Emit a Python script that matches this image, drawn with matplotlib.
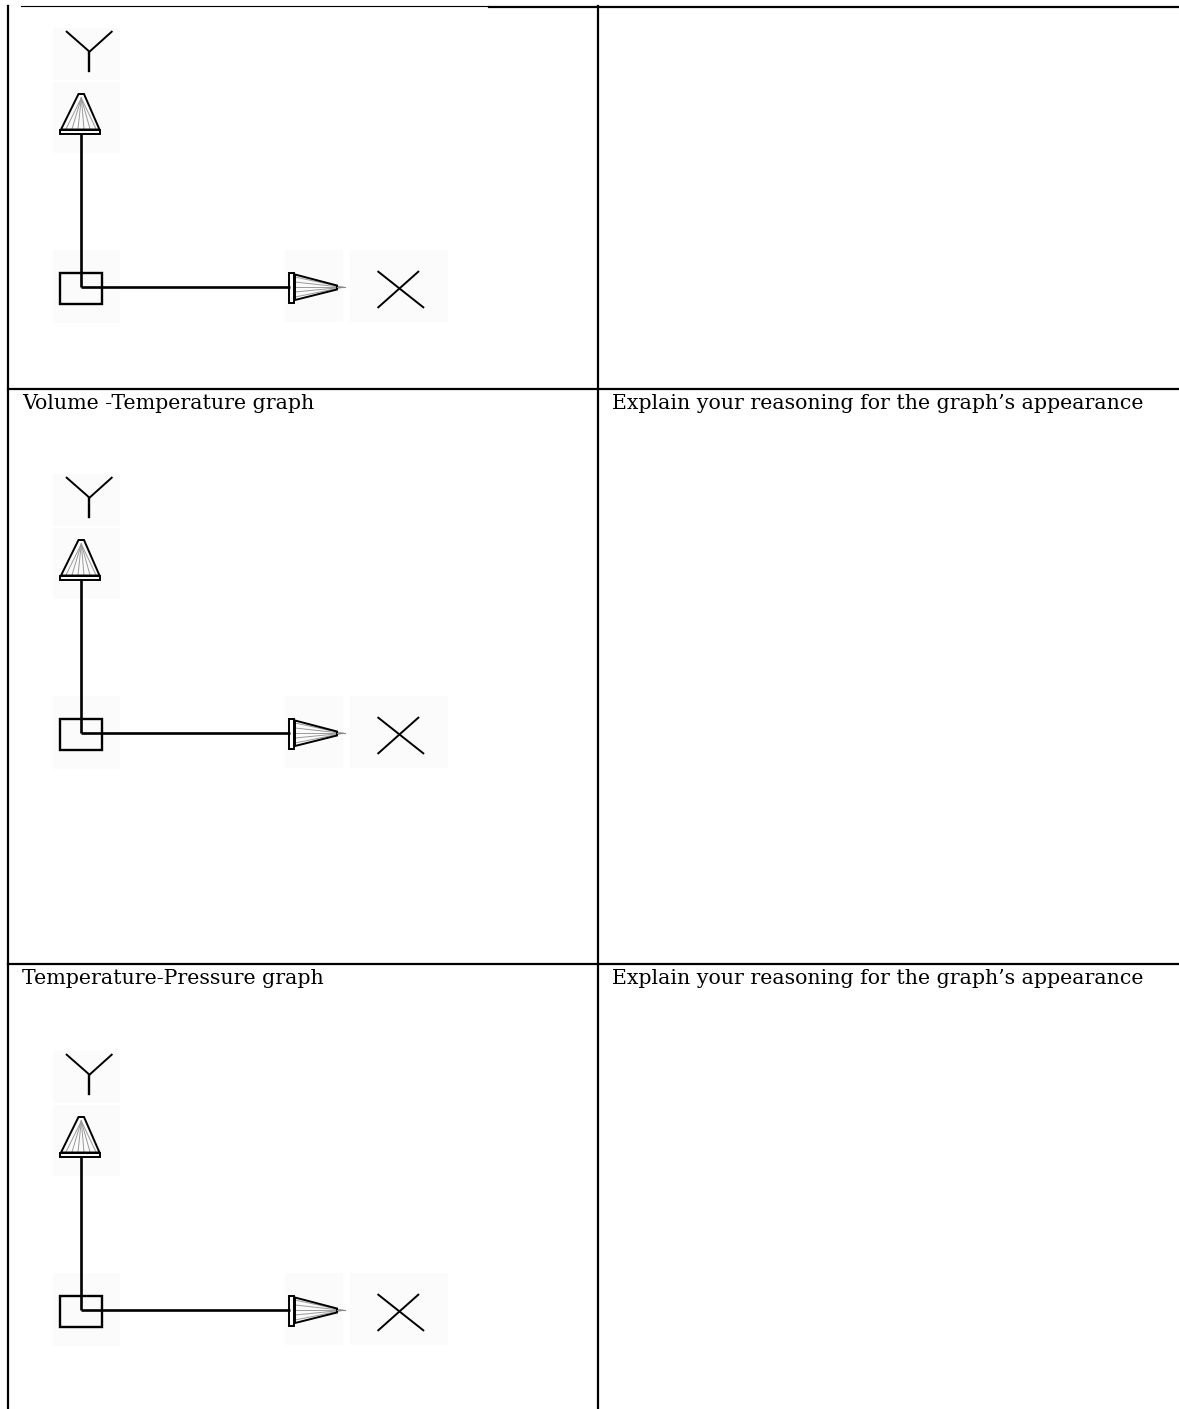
import matplotlib.pyplot as plt
from matplotlib.patches import Polygon, Rectangle

# table content
row_labels = ["", "Volume -Temperature graph", "Temperature-Pressure graph"]
row_notes = ["", "Explain your reasoning for the graph\u2019s appearance",
             "Explain your reasoning for the graph\u2019s appearance"]
row_tops = [6, 389, 964]          # pixel y of each row's top border
icon_shift = [0, 446, 1023]       # vertical offset of the axis icon in each row

W, H = 1179, 1409
col_left, col_mid = 7.5, 597.5


def draw_ucs(ax, dy):
    k = 'black'
    # faint speckle halos of the original bitmap
    for (x0, y0, w, h) in [(53, 28, 67, 52), (53, 82, 67, 71), (53, 250, 67, 73),
                           (285, 250, 58, 72), (350, 250, 98, 72)]:
        ax.add_patch(Rectangle((x0, y0 + dy), w, h, color='#fbfbfb', lw=0, zorder=1))

    # axis lines
    ax.plot([81.3, 81.3], [133 + dy, 287.3 + dy], color=k, lw=1.9, zorder=3,
            solid_capstyle='butt')
    ax.plot([81.3, 290], [287.3 + dy, 287.3 + dy], color=k, lw=1.9, zorder=3,
            solid_capstyle='butt')
    # origin box
    ax.add_patch(Rectangle((59.5, 272.5 + dy), 42.5, 31.5, fill=False, ec=k, lw=1.7, zorder=3))

    # Y arrow cone
    tip = (81.3, 94 + dy)
    for bx in [66, 72, 78, 84, 90, 96]:
        ax.plot([tip[0], bx], [tip[1] + 4, 129 + dy], color='#9a9a9a', lw=0.7, zorder=2)
    ax.add_patch(Polygon([(61, 129.5 + dy), (78.5, 94 + dy), (84, 94 + dy), (99.5, 129.5 + dy)],
                         closed=True, fill=False, ec=k, lw=1.4, zorder=3))
    ax.add_patch(Rectangle((59.5, 129.5 + dy), 40.5, 4.5, fill=False, ec=k, lw=1.4, zorder=3))

    # X arrow cone
    for by in [277, 282, 287.3, 292, 297]:
        ax.plot([295, 343], [by + dy, 287.3 + dy], color='#9a9a9a', lw=0.7, zorder=2)
    ax.add_patch(Polygon([(295, 274.5 + dy), (337, 285.5 + dy), (337, 289.5 + dy), (295, 300 + dy)],
                         closed=True, fill=False, ec=k, lw=1.4, zorder=3))
    ax.add_patch(Rectangle((289, 272.5 + dy), 5, 30, fill=False, ec=k, lw=1.4, zorder=3))
    ax.plot([337, 345], [287.3 + dy, 287.3 + dy], color='#888888', lw=0.8, zorder=3)

    # letter Y
    ax.plot([66.7, 89.5, 111.7], [31.7 + dy, 51.7 + dy, 31.7 + dy], color=k, lw=1.4, zorder=3)
    ax.plot([89.3, 89.3], [51.7 + dy, 70.7 + dy], color=k, lw=1.7, zorder=3)
    # letter X
    ax.plot([378.3, 423.3], [271.7 + dy, 307.3 + dy], color=k, lw=1.4, zorder=3)
    ax.plot([418.3, 378.3], [271.7 + dy, 307.3 + dy], color=k, lw=1.4, zorder=3)


fig = plt.figure(figsize=(W / 100, H / 100), dpi=100)
ax = fig.add_axes([0, 0, 1, 1])
ax.set_xlim(0, W)
ax.set_ylim(H, 0)
ax.axis('off')

# table borders
ax.plot([21, 489], [6, 6], color='black', lw=0.8)
ax.plot([489, W], [6.5, 6.5], color='black', lw=1.6)
ax.plot([col_left, col_left], [6, H], color='black', lw=1.6)
ax.plot([col_mid, col_mid], [6, H], color='black', lw=1.6)
for y in row_tops[1:]:
    ax.plot([col_left, W], [y, y], color='black', lw=1.6)

for top, lab, note in zip(row_tops, row_labels, row_notes):
    if lab:
        ax.text(22, top + 20, lab, fontsize=14.8, family='DejaVu Serif',
                va='baseline', ha='left')
        ax.text(612, top + 20, note, fontsize=14.8, family='DejaVu Serif',
                va='baseline', ha='left')

for dy in icon_shift:
    draw_ucs(ax, dy)

fig.savefig('out.png', dpi=100)
